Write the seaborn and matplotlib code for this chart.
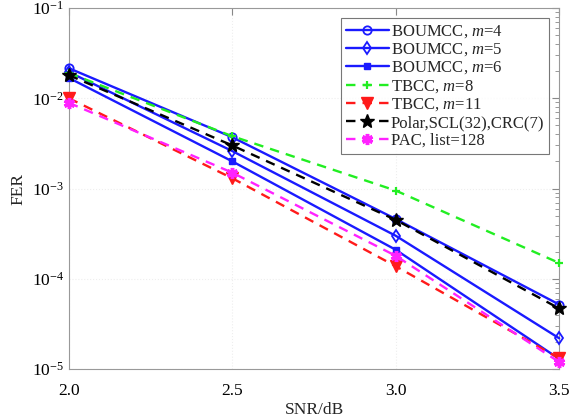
import matplotlib
matplotlib.use("Agg")
import matplotlib.pyplot as plt
import seaborn as sns
import pandas as pd
import numpy as np
from matplotlib.ticker import LogLocator, NullFormatter, FixedLocator

snr = [2.0, 2.5, 3.0, 3.5]
boumcc_m4 = [0.0215, 0.0037, 0.00046, 5.2e-5]
boumcc_m5 = [0.0195, 0.0026, 0.00030, 2.2e-5]
boumcc_m6 = [0.0168, 0.0020, 0.00021, 1.3e-5]
tbcc_m8 = [0.0190, 0.0038, 0.00095, 1.5e-4]
tbcc_m11 = [0.0100, 0.0013, 0.000138, 1.32e-5]
polar = [0.0180, 0.0030, 0.00045, 4.7e-5]
pac = [0.0089, 0.0015, 0.00018, 1.2e-5]

labels = ["BOUMCC, $m$=4", "BOUMCC, $m$=5", "BOUMCC, $m$=6", "TBCC, $m$=8",
          "TBCC, $m$=11", "Polar,SCL(32),CRC(7)", "PAC, list=128"]
series = [boumcc_m4, boumcc_m5, boumcc_m6, tbcc_m8, tbcc_m11, polar, pac]

sns.set_style("white")
plt.rcParams['font.family'] = ['Liberation Serif', 'DejaVu Serif']
plt.rcParams['mathtext.fontset'] = 'custom'
plt.rcParams['mathtext.it'] = 'Liberation Serif:italic'
plt.rcParams['mathtext.rm'] = 'Liberation Serif'

fig = plt.figure(figsize=(5.7, 4.2), dpi=100)
ax = fig.add_axes([0.121, 0.121, 0.86, 0.86])

blue = '#1a1aff'
dash = (0, (4, 3))
styles = [
    dict(color=blue, ls='-', marker='o', mfc='none', mec=blue, ms=6, mew=1.3),
    dict(color=blue, ls='-', marker='d', mfc='none', mec=blue, ms=6.5, mew=1.3),
    dict(color=blue, ls='-', marker='s', mfc=blue, mec=blue, ms=4.5, mew=1.0),
    dict(color='#22ee22', ls=dash, marker='+', mfc='#22ee22', mec='#22ee22', ms=6, mew=1.6),
    dict(color='#ff1a1a', ls=dash, marker='v', mfc='#ff1a1a', mec='#ff1a1a', ms=8, mew=1.0),
    dict(color='black', ls=dash, marker='*', mfc='black', mec='black', ms=10, mew=1.0),
    dict(color='#ff22ff', ls=dash, marker=(6, 2, 0), mfc='#ff22ff', mec='#ff22ff', ms=8, mew=2.5),
]

rows = []
for lab, vals in zip(labels, series):
    for x, y in zip(snr, vals):
        rows.append(dict(snr=x, fer=y, code=lab))
df = pd.DataFrame(rows)

for lab, st in zip(labels, styles):
    sub = df[df.code == lab]
    n0 = len(ax.lines)
    sns.lineplot(data=sub, x='snr', y='fer', ax=ax, label=lab, lw=1.7,
                 color=st['color'])
    ln = ax.lines[n0]
    ln.set_linestyle(st['ls'])
    ln.set_marker(st['marker'])
    ln.set_markersize(st['ms'])
    ln.set_markerfacecolor(st['mfc'])
    ln.set_markeredgecolor(st['mec'])
    ln.set_markeredgewidth(st['mew'])
    ln.set_clip_on(False)
    ln.set_zorder(3)

ax.set_yscale('log')
ax.set_xlim(2.0, 3.5)
ax.set_ylim(1e-5, 1e-1)
ax.set_xticks([2.0, 2.5, 3.0, 3.5])
ax.set_xticklabels(['2.0', '2.5', '3.0', '3.5'])
ax.yaxis.set_major_locator(FixedLocator([1e-5, 1e-4, 1e-3, 1e-2, 1e-1]))
ax.yaxis.set_minor_locator(LogLocator(base=10, subs=np.arange(2, 10)))
ax.yaxis.set_minor_formatter(NullFormatter())
ax.tick_params(which='both', direction='in', top=True, right=True, colors='#888888',
               labelcolor='black', labelsize=12.5)
ax.tick_params(which='major', length=5)
ax.tick_params(which='minor', length=3)
ax.tick_params(axis='x', pad=10)
ax.grid(True, which='major', color='#eeeeee', ls=':', lw=0.8)
for s in ax.spines.values():
    s.set_color('#999999')
ax.set_xlabel('SNR/dB', fontsize=12.5, labelpad=2)
ax.set_ylabel('FER', fontsize=12.5, labelpad=4)

leg = ax.legend(handles=ax.lines[:7], labels=labels, loc='upper right', fontsize=12,
                frameon=True, fancybox=False,
                edgecolor='#555555', borderpad=0.3, labelspacing=0.1,
                handlelength=2.6, handletextpad=0.1, borderaxespad=0.6)
leg.get_frame().set_linewidth(0.8)
leg.set_zorder(5)

fig.savefig('out.png', dpi=100)
